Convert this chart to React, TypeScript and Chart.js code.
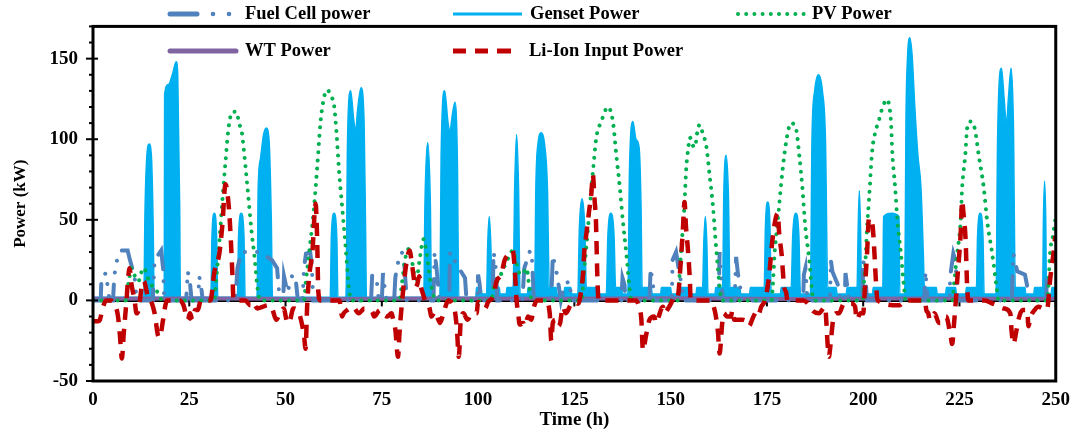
import { useEffect, useRef } from "react";
import { Chart, registerables } from "chart.js";

Chart.register(...registerables);

// ---------- axes ----------
const timeTicks = [0, 25, 50, 75, 100, 125, 150, 175, 200, 225, 250];
const powerTicks = [-50, 0, 50, 100, 150];
const powerMin = -50;
const powerMax = 170;
const powerMinorStep = 10;

const seriesNames = ["Fuel Cell power", "Genset Power", "PV Power", "WT Power", "Li-Ion Input Power"];

// ---------- series: [time (h), power (kW)] ----------
const fuelCellPoints: [number, number][] = [
  [0, 0], [2.0, 0], [2.2, 14], [2.8, 15], [3.3, 17], [3.8, 9], [4.3, 0],
  [5.2, 0], [5.5, 14], [5.9, 22], [6.6, 28], [7.2, 31], [9.0, 31], [9.6, 25], [10.8, 15], [11.3, 0],
  [15.5, 0], [16, 25], [17.7, 31], [18.2, 20], [18.5, 0],
  [24.2, 0], [24.6, 18], [25.1, 13], [25.6, 0], [27.3, 0], [27.6, 15], [28.1, 8], [28.5, 0],
  [37, 0], [37.5, 20], [38.5, 30], [43.2, 30], [46.5, 25], [47.8, 20], [48.5, 0],
  [49.4, 0], [49.6, 15], [50.5, 5], [51.8, 16], [52.6, 14], [53.2, 0],
  [54.4, 0], [54.8, 20], [55.3, 29], [56.4, 30], [56.8, 22], [57.2, 0],
  [72.2, 0], [72.5, 16], [73.3, 14], [73.7, 12], [74.2, 0], [75, 0], [75.3, 17], [75.8, 7], [76.3, 0],
  [78.2, 0], [78.5, 14], [79, 22], [80.2, 30], [80.8, 24], [81.2, 10], [81.5, 0],
  [88.4, 0], [88.7, 30], [89.2, 20], [89.6, 10], [90, 0],
  [92.5, 0], [92.7, 30], [94.5, 22], [96.6, 14], [97, 0],
  [99.8, 0], [100, 16], [100.4, 10], [100.7, 0],
  [103.8, 0], [104, 30], [104.5, 24], [105, 0],
  [111.5, 0], [112, 20], [113.5, 31], [114, 25], [114.5, 0],
  [119, 0], [119.4, 28], [120.5, 16], [121, 8], [121.5, 0], [122.5, 10], [123.8, 12], [124.2, 0],
  [137.2, 0], [137.5, 14], [138, 10], [138.3, 0],
  [144.5, 0], [144.8, 20], [145.5, 8], [145.8, 0],
  [150.3, 0], [150.5, 25], [151.4, 30], [152.2, 18], [152.8, 10], [153.2, 0],
  [162.5, 0], [162.7, 30], [163.2, 10], [163.6, 0],
  [166.6, 0], [167, 27], [167.5, 16], [168, 10], [168.4, 0],
  [184.4, 0], [184.6, 16], [185, 20], [185.5, 0],
  [191.4, 0], [191.6, 25], [192, 18], [193.7, 8], [194, 0], [195.2, 0], [195.4, 17], [195.9, 8], [196.3, 0],
  [199.8, 0], [200, 25], [200.5, 17], [201, 0],
  [215.8, 0], [216.2, 18], [216.7, 0],
  [222.4, 0], [222.6, 15], [223.4, 29], [224, 24], [224.5, 0],
  [238.6, 0], [239, 29], [240, 18], [242, 16], [242.5, 10], [243, 0],
  [247.5, 0], [247.7, 14], [248, 5], [248.3, 0], [250, 0],
];

const gensetPoints: [number, number][] = [
  [0, 2], [13.2, 2], [13.5, 55], [14, 90], [14.6, 97], [15.2, 88], [15.6, 50], [15.9, 2],
  [18.5, 2], [18.6, 128], [19.6, 134], [20.6, 140], [21.6, 148], [22.0, 140], [22.5, 60], [22.7, 2],
  [30.6, 2], [30.9, 40], [31.5, 54], [32.1, 40], [32.4, 2],
  [37.5, 2], [37.8, 40], [38.5, 54], [39.2, 40], [39.5, 2],
  [42.6, 2], [42.9, 70], [43.5, 88], [44.3, 103], [45, 107], [45.7, 100], [46.3, 50], [46.6, 2],
  [61.6, 2], [61.9, 40], [62.6, 54], [63.3, 40], [63.6, 2],
  [65.7, 2], [66.1, 100], [66.9, 130], [67.7, 112], [68.2, 105], [68.7, 118], [69.6, 132], [70.4, 110], [70.8, 40], [71, 2],
  [85.9, 2], [86.2, 60], [86.9, 98], [87.6, 60], [87.9, 2],
  [90.1, 2], [90.4, 90], [91.3, 130], [92.2, 110], [92.7, 105], [93.3, 115], [94, 123], [94.6, 90], [95, 2],
  [99.4, 2], [99.6, 8], [100.8, 8], [101, 4], [102.2, 4], [102.5, 35], [102.9, 52], [103.3, 35], [103.6, 8],
  [105.5, 8], [105.7, 4], [107.3, 4], [107.5, 8], [109.1, 8], [109.5, 70], [110, 103], [110.5, 70], [110.9, 4],
  [112.8, 4], [113, 8], [114.7, 8], [115, 70], [115.6, 98], [116.4, 104], [117.2, 98], [118, 70], [118.5, 8],
  [120.3, 8], [120.5, 4], [122.3, 4], [122.5, 8], [124.1, 8], [124.3, 4], [125.9, 4], [126.3, 45], [127, 63], [127.7, 45], [128.1, 8],
  [130.6, 8], [130.8, 4], [133.3, 4], [133.7, 40], [134.5, 54], [135.3, 40], [135.7, 8],
  [137.3, 8], [137.5, 4], [138.9, 4], [139.3, 80], [140.2, 111], [141, 100], [141.8, 95], [142.3, 60], [142.6, 8],
  [145, 8], [145.2, 4], [147.4, 4], [147.6, 8], [150, 8], [150.2, 4], [152.4, 4], [152.6, 8], [155, 8], [155.2, 4], [156.6, 4], [156.8, 8],
  [158.3, 8], [158.6, 35], [159, 52], [159.4, 35], [159.7, 4],
  [161.5, 4], [161.7, 8], [163.5, 8], [163.8, 65], [164.4, 90], [165, 65], [165.4, 8],
  [168, 8], [168.2, 4], [170.5, 4], [170.7, 8], [174.3, 8], [174.6, 45], [175.2, 61], [175.8, 45], [176.1, 4],
  [178.5, 4], [178.7, 8], [181.3, 8], [181.7, 40], [182.5, 54], [183.3, 40], [183.7, 4],
  [186.3, 4], [186.7, 100], [187.4, 130], [188.4, 140], [189.4, 130], [190.2, 100], [190.8, 8],
  [193, 8], [193.2, 4], [195.6, 4], [195.8, 8], [198.4, 8], [198.7, 45], [199, 68], [199.3, 45], [199.6, 4],
  [202.4, 4], [202.6, 8], [205.1, 8], [205.3, 52], [207.4, 54], [209.3, 52], [209.5, 4],
  [210.8, 4], [211.1, 110], [211.5, 150], [212.1, 163], [212.7, 152], [213.4, 120], [214.2, 90], [215, 70], [215.6, 30], [215.9, 8],
  [219, 8], [219.2, 4], [221.4, 4], [221.6, 8], [224, 8], [224.2, 4], [226.6, 4], [226.8, 8], [229.4, 8], [229.7, 40], [230.4, 54], [231.1, 40], [231.4, 4],
  [234.5, 4], [234.9, 100], [235.9, 144], [236.6, 125], [237.2, 109], [237.7, 125], [238.4, 144], [239, 110], [239.5, 8],
  [242, 8], [242.2, 4], [244.3, 4], [244.5, 8], [246.6, 8], [246.8, 50], [247.1, 74], [247.4, 50], [247.6, 4],
  [248.8, 4], [249, 8], [250, 8],
];

const pvPoints: [number, number][] = [
  [0, 0], [8.5, 0], [9, 8], [9.5, 15], [9.9, 20], [10.5, 18], [11, 14], [11.8, 12], [12.4, 16], [12.9, 20], [13.5, 19], [14.2, 14], [15, 10], [16, 8], [17, 4], [18, 0],
  [31.5, 0], [31.9, 10], [32.7, 33], [33.6, 62], [34.4, 86], [35.1, 105], [35.6, 113], [35.9, 116], [36.4, 117], [37.3, 117], [37.9, 110], [38.6, 105], [39.1, 95], [39.8, 78], [40.5, 60], [41.2, 42], [41.8, 30], [42.3, 18], [42.7, 8], [43.4, 0],
  [54.8, 0], [55.2, 10], [56.1, 29], [57.4, 58], [58.2, 82], [59.1, 111], [60.2, 128], [60.9, 130.6], [61.7, 127], [62.6, 121], [63.2, 105], [63.9, 80], [64.7, 58], [65.6, 33], [66.4, 9], [67, 0],
  [79.5, 0], [80.3, 12], [81, 25], [82, 32], [82.8, 25], [83.5, 15], [84, 13], [84.8, 25], [85.8, 38], [86.6, 30], [87.4, 15], [88.2, 5], [89, 0],
  [103.5, 0], [104, 8], [105, 12], [105.7, 15], [107, 22], [108.2, 28], [109, 31], [109.8, 25], [110.5, 18], [111, 16], [112, 18], [112.6, 20], [113.1, 12], [113.5, 5], [114, 0],
  [127, 0], [127.3, 12], [128.1, 33], [129, 58], [129.9, 82], [130.7, 101], [132, 111], [133.7, 120], [135, 111], [135.9, 90], [136.8, 70], [137.6, 49], [138.5, 29], [139.3, 8.5], [139.8, 0],
  [151.8, 0], [152.3, 15], [152.8, 33], [153.6, 60], [154, 80], [154.6, 95], [155, 101], [155.8, 96], [156.3, 95], [156.9, 104], [157.5, 109], [158.3, 104], [159.3, 95], [160.1, 78], [161, 58], [161.8, 33], [162.7, 9], [163.2, 0],
  [176.2, 0], [176.5, 8], [177, 29], [177.8, 49], [178.6, 70], [179.5, 90], [180.4, 104], [181.2, 110], [182.5, 107], [183.4, 90], [184.2, 70], [185, 45], [186, 25], [186.8, 4], [187.2, 0],
  [199.8, 0], [200.1, 8], [200.6, 25], [201, 45], [201.5, 62], [202.3, 92], [203, 103], [204, 111], [205.2, 121], [206.3, 124.5], [206.8, 120], [207.2, 111], [207.6, 90], [208.3, 70], [208.9, 49], [209.8, 29], [210.6, 8], [211, 0],
  [223.2, 0], [223.5, 8], [224.4, 29], [225.3, 49], [225.7, 70], [226.5, 90], [227, 107], [227.8, 111], [228.5, 110], [229.1, 105], [230, 90], [231.3, 70], [232.2, 49], [233.5, 29], [234.7, 7], [235.1, 0],
  [247.8, 0], [248.1, 9], [248.5, 29], [249.3, 40], [249.8, 49], [250, 50],
];

const windPoints: [number, number][] = [
  [0, 1], [30, 1.2], [60, 0.8], [90, 1.2], [120, 1], [150, 1.3], [180, 0.9], [210, 1.2], [240, 1], [250, 1],
];

const liIonPoints: [number, number][] = [
  [0, -13], [1.3, -13], [1.8, -12], [2.5, -5], [3.4, 0], [4.5, 0], [5.5, -2], [6.5, -10], [7, -22], [7.5, -36], [8, -20], [8.7, 0], [9.1, 13], [9.5, 20], [10, 10], [10.8, 0],
  [11.3, -8], [11.8, -6], [12.3, 2], [12.6, 8], [13.2, 12], [14.3, 2], [15, 0], [16, -8], [16.9, -22], [17.3, -23], [18.2, -12], [18.8, -3], [19.2, 0], [22.5, 0],
  [23.5, -3], [24.6, -12], [25.2, -8], [25.8, -12], [26.5, -6], [27.2, -6], [28, 0], [30.5, 0], [31.1, 9], [31.4, 16], [32.8, 29], [33.6, 47], [34.4, 72], [35.3, 57], [35.8, 37], [36.2, 16], [36.5, 0],
  [39.5, 0], [40.9, -3], [41.4, -1], [42.7, -5], [44, -4], [45.5, -3], [46.5, -5], [47.6, -12], [48.5, -8], [49.5, -5], [50.5, -14], [51.2, -12], [52, -5], [53.5, -8], [54.8, -22], [55.2, -30],
  [55.6, -4], [56.1, 14], [57, 31], [57.8, 60], [58.2, 39], [58.5, 6], [59, 0], [64, 0], [64.7, -10], [65.1, -8], [66, -6], [67.5, -4], [69, -8], [70.5, -5], [72.5, -7], [73, -10],
  [74.5, -6], [75.5, -9], [76.4, -10], [77.5, -8], [78.1, -14], [78.5, -18], [79.2, -35], [79.6, -20], [80.2, -2], [80.7, 10], [81.5, 25], [82.2, 31], [82.8, 23], [83.3, 14], [83.7, 8],
  [84.2, 10], [84.7, 15], [85.2, 8], [85.7, 4], [86.2, 0], [87.3, -4], [87.9, -10], [88.8, -7], [90.1, -14], [91, -8], [92.3, 0], [93.5, -3], [94, -7], [94.5, -18], [95, -35], [95.5, -12],
  [96.2, -8], [97.2, -12], [98.5, -8], [99.6, -8], [100, -1], [101, -3], [101.8, -5], [102.6, -1], [104, 3], [104.8, 12], [106, 16], [106.9, 25], [108.2, 29], [109, 31], [109.5, 20], [110, 0],
  [110.4, -8], [110.8, -15], [111.7, -14], [112.1, -16], [113, -10], [113.8, -12], [114.5, -4], [115.3, 0], [117.5, 0], [118.6, -8], [119, -25], [119.4, -14], [120.2, -12], [120.7, -16],
  [121.3, -14], [122, -4], [122.8, -8], [124, -3], [125, -1], [126, -2], [126.7, 5], [127.3, 18], [127.6, 31], [128.1, 41], [128.8, 55], [129.4, 66], [129.8, 78], [130.2, 64], [130.6, 49],
  [131, 12], [131.3, 0], [141, 0], [141.8, -4], [142.4, -12], [142.8, -31], [143.6, -22], [144.5, -12], [145.7, -10], [146.2, -14], [146.6, -12], [148, -4], [148.3, -8], [149.6, -4],
  [151.4, 3], [151.8, 2], [152.6, 23], [153.2, 45], [153.6, 61], [154, 45], [154.5, 31], [155, 12], [155.2, 0], [160.5, 0], [161.2, -4], [161.6, -8], [162.3, -20], [162.7, -33],
  [163.4, -14], [163.8, -8], [164.6, -10], [165.7, -10], [166, -6], [166.5, -12], [168.6, -12], [169.6, -13], [170.3, -16], [171.5, -10], [172.6, -6], [172.9, -8], [173.5, -4],
  [174.5, 0], [175.4, 12], [175.6, 16], [176.5, 39], [177.8, 54], [178.2, 41], [178.8, 29], [179.5, 8], [180, 5], [180.3, 0], [184.5, 0], [186, -3], [186.7, -6], [188.5, -8],
  [190.1, -4], [190.5, -16], [190.7, -25], [191.1, -35], [191.4, -30], [192.2, -12], [193.1, -8], [193.7, -8], [195, -2], [197, -2], [197.9, -4], [198.3, -12], [199.3, -8], [200, -8],
  [200.4, 6], [201, 29], [201.5, 51], [202.4, 47], [202.9, 30], [203.3, 12], [203.7, 0], [209.3, -3], [210, -2], [210.6, 0], [216, 0], [216.4, -6], [216.9, -8], [217.3, -12],
  [218.5, -8], [219.7, -14], [220.1, -14], [221.5, -10], [222.7, -22], [223.1, -27], [223.6, -14], [224, -2], [224.4, 12], [225.3, 41], [225.7, 62], [226, 55], [226.6, 37], [227, 8],
  [227.3, 0], [231.6, 0], [233.6, -2], [234.7, -3], [236.5, -5], [238.2, -8], [238.5, -18], [239, -27], [239.7, -20], [240.3, -12], [241.4, -6], [242.6, -6], [242.9, -16],
  [243.5, -10], [244.5, -6], [245.5, -4], [246.6, -5], [247.4, -6], [247.9, -4], [248.5, 12], [249.4, 29], [249.9, 40],
];

// ---------- styles ----------
const COLORS = {
  fc: "#4F81BD",
  genset: "#00B0F0",
  pv: "#00B050",
  wt: "#8064A2",
  li: "#C00000",
};
const FONT = '"Liberation Serif", "Times New Roman", serif';
const GENSET_INDEX = 4;

const toXY = (pts: [number, number][]) => pts.map(([x, y]) => ({ x, y }));

const overlayPlugin = {
  id: "overlay",
  afterDatasetDraw(chart: any, args: any) {
    if (args.index !== GENSET_INDEX) return;
    const { ctx, chartArea: a, scales } = chart;
    const y0 = scales.y.getPixelForValue(0);
    ctx.save();
    ctx.strokeStyle = "#000";
    ctx.lineWidth = 3;
    ctx.beginPath();
    ctx.moveTo(a.left, y0);
    ctx.lineTo(a.right, y0);
    ctx.stroke();
    ctx.lineWidth = 2;
    for (const t of timeTicks) {
      const x = scales.x.getPixelForValue(t);
      ctx.beginPath();
      ctx.moveTo(x, y0);
      ctx.lineTo(x, y0 + 6);
      ctx.stroke();
    }
    ctx.restore();
  },
  afterDraw(chart: any) {
    const { ctx, chartArea: a, scales } = chart;
    ctx.save();
    // frame
    ctx.strokeStyle = "#000";
    ctx.lineWidth = 3;
    ctx.strokeRect(a.left, a.top, a.right - a.left, a.bottom - a.top);
    // y tick marks
    ctx.lineWidth = 2;
    for (let v = powerMin; v <= powerMax; v += powerMinorStep) {
      const y = scales.y.getPixelForValue(v);
      const major = powerTicks.includes(v);
      ctx.beginPath();
      ctx.moveTo(a.left - (major ? 7 : 4), y);
      ctx.lineTo(a.left + (major ? 5 : 0), y);
      ctx.stroke();
    }
    // legend
    ctx.font = `bold 18.5px ${FONT}`;
    ctx.textBaseline = "middle";
    ctx.textAlign = "left";
    const r1 = 14;
    const r2 = 51;
    // Fuel cell
    ctx.strokeStyle = COLORS.fc;
    ctx.fillStyle = COLORS.fc;
    ctx.lineWidth = 5;
    ctx.lineCap = "round";
    ctx.beginPath();
    ctx.moveTo(170, r1);
    ctx.lineTo(197, r1);
    ctx.stroke();
    for (const dx of [213, 229]) {
      ctx.beginPath();
      ctx.arc(dx, r1, 2.3, 0, Math.PI * 2);
      ctx.fill();
    }
    // Genset
    ctx.strokeStyle = COLORS.genset;
    ctx.lineWidth = 3;
    ctx.lineCap = "butt";
    ctx.beginPath();
    ctx.moveTo(453, r1);
    ctx.lineTo(522, r1);
    ctx.stroke();
    // PV
    ctx.fillStyle = COLORS.pv;
    for (let i = 0; i < 9; i++) {
      ctx.beginPath();
      ctx.arc(738 + i * 8.2, r1, 2, 0, Math.PI * 2);
      ctx.fill();
    }
    // WT
    ctx.strokeStyle = COLORS.wt;
    ctx.lineWidth = 5;
    ctx.lineCap = "round";
    ctx.beginPath();
    ctx.moveTo(170, r2);
    ctx.lineTo(236, r2);
    ctx.stroke();
    // Li-Ion
    ctx.strokeStyle = COLORS.li;
    ctx.lineCap = "butt";
    for (const [s, e] of [[453, 466], [475, 488], [497, 511]]) {
      ctx.beginPath();
      ctx.moveTo(s, r2);
      ctx.lineTo(e, r2);
      ctx.stroke();
    }
    ctx.fillStyle = "#000";
    ctx.fillText(seriesNames[0], 245, r1);
    ctx.fillText(seriesNames[1], 530, r1);
    ctx.fillText(seriesNames[2], 812, r1);
    ctx.fillText(seriesNames[3], 245, r2);
    ctx.fillText(seriesNames[4], 529, r2);
    ctx.restore();
  },
};

export default function App() {
  const ref = useRef<HTMLCanvasElement | null>(null);

  useEffect(() => {
    document.body.style.margin = "0";
    if (!ref.current) return;
    const tickFont = { family: FONT, size: 19, weight: "bold" as const };
    const chart = new Chart(ref.current, {
      type: "line",
      data: {
        datasets: [
          {
            label: seriesNames[4],
            data: toXY(liIonPoints),
            borderColor: COLORS.li,
            borderWidth: 4.5,
            borderDash: [13, 9],
            cubicInterpolationMode: "monotone",
            pointRadius: 0,
            fill: false,
          },
          {
            label: seriesNames[2],
            data: toXY(pvPoints),
            borderColor: COLORS.pv,
            borderWidth: 4,
            borderDash: [0.001, 8.2],
            borderCapStyle: "round",
            cubicInterpolationMode: "monotone",
            pointRadius: 0,
            fill: false,
          },
          {
            label: seriesNames[0],
            data: toXY(fuelCellPoints),
            borderColor: COLORS.fc,
            borderWidth: 4,
            borderDash: [24, 12, 0.001, 12, 0.001, 12],
            borderCapStyle: "round",
            tension: 0,
            pointRadius: 0,
            fill: false,
          },
          {
            label: seriesNames[3],
            data: toXY(windPoints),
            borderColor: COLORS.wt,
            borderWidth: 4,
            tension: 0,
            pointRadius: 0,
            fill: false,
          },
          {
            label: seriesNames[1],
            data: toXY(gensetPoints),
            borderColor: COLORS.genset,
            backgroundColor: COLORS.genset,
            borderWidth: 1.5,
            cubicInterpolationMode: "monotone",
            pointRadius: 0,
            fill: "origin",
          },
        ],
      },
      options: {
        responsive: false,
        animation: false,
        devicePixelRatio: 1,
        layout: { padding: { left: 0, right: 18, top: 23, bottom: 0 } },
        plugins: {
          legend: { display: false },
          tooltip: { enabled: false },
        },
        scales: {
          x: {
            type: "linear",
            min: 0,
            max: 250,
            afterBuildTicks: (s: any) => {
              s.ticks = timeTicks.map((v) => ({ value: v }));
            },
            afterFit: (s: any) => {
              s.height = 53;
            },
            grid: { display: false, drawTicks: false },
            border: { display: false },
            ticks: {
              autoSkip: false,
              maxRotation: 0,
              padding: 8,
              color: "#000",
              font: tickFont,
            },
            title: {
              display: true,
              text: "Time (h)",
              color: "#000",
              font: { family: FONT, size: 19, weight: "bold" },
              padding: { top: 0, bottom: 3 },
            },
          },
          y: {
            type: "linear",
            min: powerMin,
            max: powerMax,
            afterBuildTicks: (s: any) => {
              s.ticks = powerTicks.map((v) => ({ value: v }));
            },
            afterFit: (s: any) => {
              s.width = 93;
            },
            grid: { display: false, drawTicks: false },
            border: { display: false },
            ticks: {
              autoSkip: false,
              padding: 15,
              color: "#000",
              font: tickFont,
            },
            title: {
              display: true,
              text: "Power (kW)",
              color: "#000",
              font: { family: FONT, size: 17, weight: "bold" },
              padding: { top: 10, bottom: 0 },
            },
          },
        },
      },
      plugins: [overlayPlugin],
    });
    return () => chart.destroy();
  }, []);

  return (
    <div style={{ width: 1078, height: 434 }}>
      <canvas ref={ref} width={1078} height={434} style={{ display: "block" }} />
    </div>
  );
}
